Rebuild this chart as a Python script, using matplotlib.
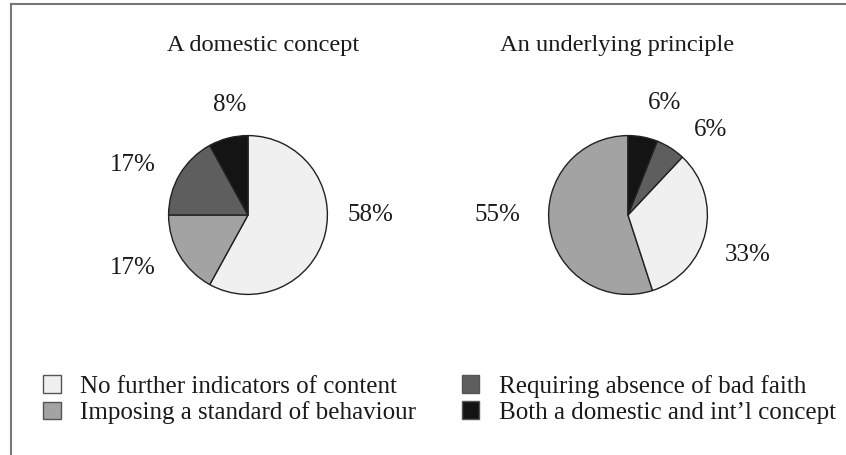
import matplotlib.pyplot as plt
from matplotlib.patches import Patch
from matplotlib.lines import Line2D

plt.rcParams['font.family'] = ['Liberation Serif', 'DejaVu Serif']

categories = ["No further indicators of content", "Imposing a standard of behaviour",
              "Requiring absence of bad faith", "Both a domestic and int\u2019l concept"]
colors = ["#f0f0f0", "#a3a3a3", "#5e5e5e", "#141414"]
titles = ["A domestic concept", "An underlying principle"]
domestic = [58, 17, 17, 8]
principle = [33, 55, 6, 6]
label_text_dom = ["58%", "17%", "17%", "8%"]
label_text_pri = ["33%", "55%", "6%", "6%"]

W, H = 846, 455
FS = 18
fig = plt.figure(figsize=(W / 100, H / 100), dpi=100)

def px_axes(cx, cy, r):
    return fig.add_axes([(cx - r) / W, 1 - (cy + r) / H, 2 * r / W, 2 * r / H])

# pie specs: values, drawing order, counterclock, center, radius, label pixel positions
specs = [
    (domestic, [0, 1, 2, 3], False, (248, 215), 81,
     [(370, 215), (133, 268), (133, 165), (230, 105)], label_text_dom),
    (principle, [1, 0, 2, 3], True, (628, 215), 81,
     [(748, 255), (497, 215), (711, 130), (665, 103)], label_text_pri),
]
title_pos = [(263, 45), (617, 45)]

for (vals, order, ccw, (cx, cy), r, lpos, ltxt), title, tp in zip(specs, titles, title_pos):
    ax = px_axes(cx, cy, r)
    ax.pie([vals[i] for i in order], colors=[colors[i] for i in order],
           startangle=90, counterclock=ccw, radius=1,
           wedgeprops=dict(edgecolor="#222222", linewidth=1.0))
    ax.set_xlim(-1.02, 1.02)
    ax.set_ylim(-1.02, 1.02)
    ax.set_aspect('equal')
    ax.axis('off')
    for (x, y), t in zip(lpos, ltxt):
        fig.text(x / W, 1 - y / H, t, ha='center', va='center', fontsize=FS, color="#1a1a1a")
    fig.text(tp[0] / W, 1 - tp[1] / H, title, ha='center', va='center', fontsize=17.6, color="#1a1a1a")

handles = [Patch(facecolor=c, edgecolor="#555555", linewidth=1.0) for c in colors]
fig.legend(handles, categories, ncol=2, loc='upper left',
           bbox_to_anchor=(43 / W, 1 - 375 / H), frameon=False, fontsize=FS,
           handlelength=0.7, handleheight=0.7, handletextpad=0.8,
           labelspacing=0.14, columnspacing=1.8, borderaxespad=0, borderpad=0,
           labelcolor="#1a1a1a")

# frame lines (top and left)
fig.add_artist(Line2D([11 / W, 1], [1 - 4 / H, 1 - 4 / H], color="#777777", linewidth=1.5))
fig.add_artist(Line2D([11 / W, 11 / W], [0, 1 - 4 / H], color="#777777", linewidth=1.5))

fig.savefig("out.png", dpi=100)
